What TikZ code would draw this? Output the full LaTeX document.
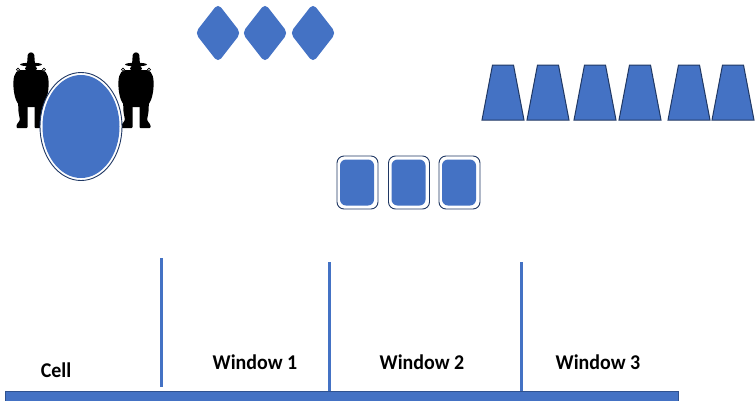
\documentclass[tikz,border=0pt]{standalone}
\usepackage{fontspec}
\setmainfont{Carlito}
\usetikzlibrary{shapes.geometric}
\definecolor{fillblue}{HTML}{4472C4}
\definecolor{edgenavy}{HTML}{203864}
\definecolor{baredge}{HTML}{2F528F}
\tikzset{
  sitter/.pic={
    % hat crown and brim
    \fill[black] (-4,13) -- (-3.3,3) .. controls (-2.5,-0.5) and (2.5,-0.5) .. (3.3,3) -- (4,13) -- cycle;
    \fill[black] (0,12.5) ellipse [x radius=11, y radius=1.8];
    % head
    \fill[black] (0,16.5) ellipse [x radius=6, y radius=3.8];
    % torso with arms
    \fill[black] (-11,18) .. controls (-17,19) and (-18,27) .. (-17.5,35)
      .. controls (-17,45) and (-14,52) .. (-10,55) -- (10,55)
      .. controls (14,52) and (17,45) .. (17.5,35)
      .. controls (18,27) and (17,19) .. (11,18) -- cycle;
    % legs
    \fill[black, rounded corners=1] (-13,48) -- (-12.5,60) -- (-11,68) -- (-14.5,73) -- (-14.5,76)
      -- (-3.5,76) -- (-3.5,52) -- cycle;
    \fill[black, rounded corners=1] (13,48) -- (12.5,60) -- (11,68) -- (14.5,73) -- (14.5,76)
      -- (3.5,76) -- (3.5,52) -- cycle;
    % shoulder rings
    \draw[black, line width=0.6, fill=white] (-13,17.7) circle [radius=1.6];
    \draw[black, line width=0.6, fill=white] (13,17.7) circle [radius=1.6];
  },
  gem/.style={diamond, fill=fillblue, inner sep=0, minimum width=46, minimum height=59, rounded corners=5},
  cupshape/.style={fill=fillblue, draw=edgenavy, line width=1},
  cardframe/.style={rectangle, draw=edgenavy, line width=0.9, fill=white, rounded corners=7,
    minimum width=41, minimum height=53, inner sep=0},
  cardface/.style={rectangle, fill=fillblue, rounded corners=6, minimum width=34, minimum height=46, inner sep=0},
  divider/.style={draw=fillblue, line width=3},
  label/.style={font=\bfseries\fontsize{21}{24}\selectfont, xscale=0.95, inner sep=0, anchor=base},
}
\begin{document}
\begin{tikzpicture}[x=1pt, y=-1pt]
\useasboundingbox (0,0) rectangle (755,400);
\clip (0,0) rectangle (755,400);

% seated figures on either side of the oval
\pic at (31,52) {sitter};
\pic at (136,52) {sitter};

% the oval
\node (ovalframe) [ellipse, draw=edgenavy, line width=0.9, fill=white,
  minimum width=82, minimum height=108, inner sep=0] at (81,126.5) {};
\node (oval) [ellipse, fill=fillblue, minimum width=77, minimum height=103, inner sep=0] at (81,126.5) {};

% three diamonds
\node (gem1) [gem] at (218,33) {};
\node (gem2) [gem] at (265,33) {};
\node (gem3) [gem] at (313,33) {};

% six trapezoids
\foreach \cx in {503,548,595,640,689,733}{
  \draw[cupshape] (\cx-21,120) -- (\cx-10.5,65) -- (\cx+10.5,65) -- (\cx+21,120) -- cycle;
}

% three cards
\foreach \i/\cx in {1/357.5,2/409,3/459.5}{
  \node (frame\i) [cardframe] at (\cx,182.5) {};
  \node (card\i) [cardface] at (\cx-0.5,182.5) {};
}

% base bar
\node (bar) [rectangle, fill=fillblue, draw=baredge, line width=1, inner sep=0, anchor=north west,
  minimum width=673, minimum height=14] at (5,391) {};

% dividers
\coordinate (d1t) at (161,258);
\coordinate (d1b) at (161,387);
\coordinate (d2t) at (329,262);
\coordinate (d2b) at (329,391);
\coordinate (d3t) at (521,262);
\coordinate (d3b) at (521,391);
\draw[divider] (d1t) -- (d1b);
\draw[divider] (d2t) -- (d2b);
\draw[divider] (d3t) -- (d3b);

% labels
\node (cell) [label] at (56,377) {Cell};
\node (w1) [label] at (255,369) {Window 1};
\node (w2) [label] at (422,369) {Window 2};
\node (w3) [label] at (598,369) {Window 3};
\end{tikzpicture}
\end{document}
